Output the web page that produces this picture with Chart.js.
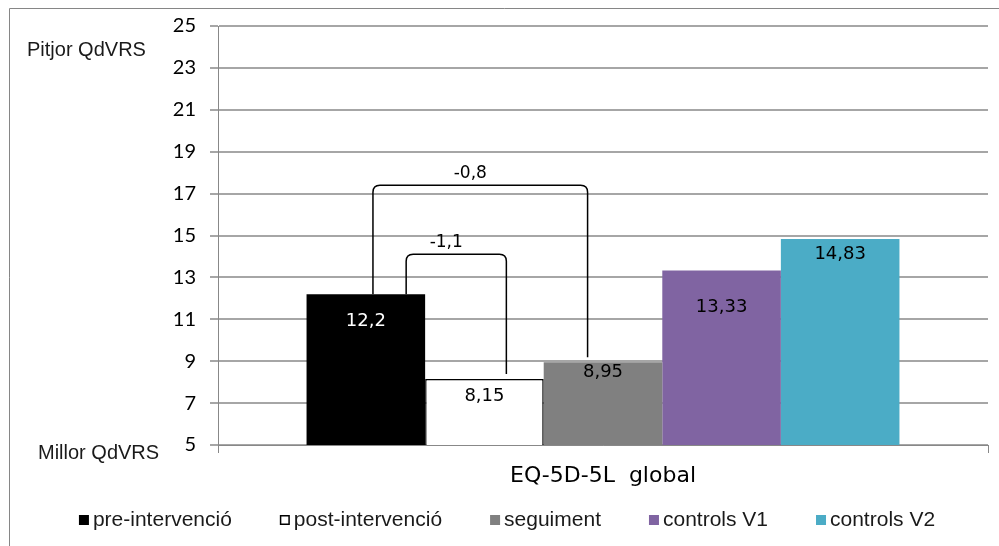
<!DOCTYPE html>
<html>
<head>
<meta charset="utf-8">
<script src="https://cdn.jsdelivr.net/npm/chart.js@4"></script>
<style>
  html, body { margin: 0; padding: 0; background: #fff; }
  #wrap { width: 999px; height: 546px; }
</style>
</head>
<body>
<div id="wrap"><canvas id="eqChart" width="999" height="546"></canvas></div>
<script>
// EQ-5D-5L global score per group
const categories = ["EQ-5D-5L  global"];
const groupNames = ["pre-intervenció", "post-intervenció", "seguiment", "controls V1", "controls V2"];
const groupValues = [12.2, 8.15, 8.95, 13.33, 14.83];
const yTicks = [5, 7, 9, 11, 13, 15, 17, 19, 21, 23, 25];

// differences drawn as brackets between pairs of bars
const bracketPairs = [[0, 1], [0, 2]];
const bracketLabels = ["-1,1", "-0,8"];
const bracketLevels = [14.1, 17.4];

const barFill = ["#000000", "#ffffff", "#808080", "#8064a2", "#4bacc6"];
const barEdge = ["#000000", "#000000", "#808080", "#8064a2", "#4bacc6"];
const labelInk = ["#ffffff", "#000000", "#000000", "#000000", "#000000"];
const labelDrop = [27, 17, 10, 37, 15];
const legXOffset = [[0.34, 0.185], [0.06, -0.13]];

const fmt = v => String(v).replace(".", ",");

const decorations = {
  id: "decorations",
  afterDatasetsDraw(chart) {
    const ctx = chart.ctx;
    const y = chart.scales.y;
    ctx.save();

    // frame (top and left edges)
    ctx.strokeStyle = "#868686";
    ctx.lineWidth = 1;
    ctx.beginPath();
    ctx.moveTo(9.5, 546);
    ctx.lineTo(9.5, 8.5);
    ctx.lineTo(999, 8.5);
    ctx.stroke();

    // best / worst notes beside the axis
    ctx.fillStyle = "#1a1a1a";
    ctx.font = "20px 'Liberation Sans'";
    ctx.textAlign = "left";
    ctx.textBaseline = "middle";
    ctx.fillText("Pitjor QdVRS", 27, 50);
    ctx.fillText("Millor QdVRS", 38, 453);

    // value labels inside the bars
    const bars = chart.data.datasets.map((ds, i) => chart.getDatasetMeta(i).data[0]);
    ctx.font = "18px 'DejaVu Sans'";
    ctx.textAlign = "center";
    bars.forEach((bar, i) => {
      ctx.fillStyle = labelInk[i];
      ctx.fillText(fmt(groupValues[i]), bar.x, bar.y + labelDrop[i]);
    });

    // brackets
    ctx.strokeStyle = "#000";
    ctx.lineWidth = 1.5;
    ctx.fillStyle = "#000";
    ctx.font = "17px 'DejaVu Sans'";
    const r = 7;
    bracketPairs.forEach(([a, b], k) => {
      const ba = bars[a], bb = bars[b];
      const x1 = ba.x + ba.width * legXOffset[k][0];
      const x2 = bb.x + bb.width * legXOffset[k][1];
      const yTop = y.getPixelForValue(bracketLevels[k]);
      const y1 = y.getPixelForValue(groupValues[a]);
      const y2 = y.getPixelForValue(groupValues[b]) - 5;
      ctx.beginPath();
      ctx.moveTo(x1, y1);
      ctx.lineTo(x1, yTop + r);
      ctx.quadraticCurveTo(x1, yTop, x1 + r, yTop);
      ctx.lineTo(x2 - r, yTop);
      ctx.quadraticCurveTo(x2, yTop, x2, yTop + r);
      ctx.lineTo(x2, y2);
      ctx.stroke();
      ctx.fillText(bracketLabels[k], (x1 + x2) / 2 - 10, yTop - 12);
    });

    // legend along the bottom
    ctx.font = "21px 'Liberation Sans'";
    ctx.textAlign = "left";
    const box = 10, gapBox = 4, gapItem = 48;
    const widths = groupNames.map(n => box + gapBox + ctx.measureText(n).width);
    const total = widths.reduce((s, w) => s + w, 0) + gapItem * (widths.length - 1);
    let lx = 507 - total / 2;
    const ly = 520;
    groupNames.forEach((n, i) => {
      ctx.fillStyle = barFill[i];
      ctx.fillRect(lx, ly - box / 2, box, box);
      if (i === 1) {
        ctx.strokeStyle = "#000";
        ctx.lineWidth = 1.5;
        ctx.strokeRect(lx + 0.75, ly - box / 2 + 0.75, box - 1.5, box - 1.5);
      }
      ctx.fillStyle = "#1a1a1a";
      ctx.fillText(n, lx + box + gapBox, ly);
      lx += widths[i] + gapItem;
    });

    ctx.restore();
  }
};

new Chart(document.getElementById("eqChart"), {
  type: "bar",
  data: {
    labels: categories,
    datasets: groupNames.map((name, i) => ({
      label: name,
      data: [groupValues[i]],
      backgroundColor: barFill[i],
      borderColor: barEdge[i],
      borderWidth: i === 1 ? 1.5 : 0,
      barPercentage: 1,
      categoryPercentage: 0.77,
    })),
  },
  options: {
    responsive: false,
    animation: false,
    layout: { padding: { top: 24, right: 11, left: 0, bottom: 0 } },
    plugins: {
      legend: { display: false },
      tooltip: { enabled: false },
    },
    scales: {
      x: {
        grid: { drawOnChartArea: false, tickLength: 8, color: "#888", offset: true },
        border: { color: "#888" },
        ticks: {
          color: "#000",
          font: { family: "DejaVu Sans", size: 22 },
          padding: 10,
        },
        afterFit: s => { s.height = 101; },
      },
      y: {
        min: 5,
        max: 25,
        afterBuildTicks: s => { s.ticks = yTicks.map(v => ({ value: v })); },
        ticks: {
          color: "#000",
          font: { family: "Lato", size: 20 },
          padding: 14,
        },
        grid: { color: "#a6a6a6", lineWidth: 2, tickLength: 8 },
        border: { color: "#888" },
        afterFit: s => { s.width = 218; },
      },
    },
  },
  plugins: [decorations],
});
</script>
</body>
</html>
